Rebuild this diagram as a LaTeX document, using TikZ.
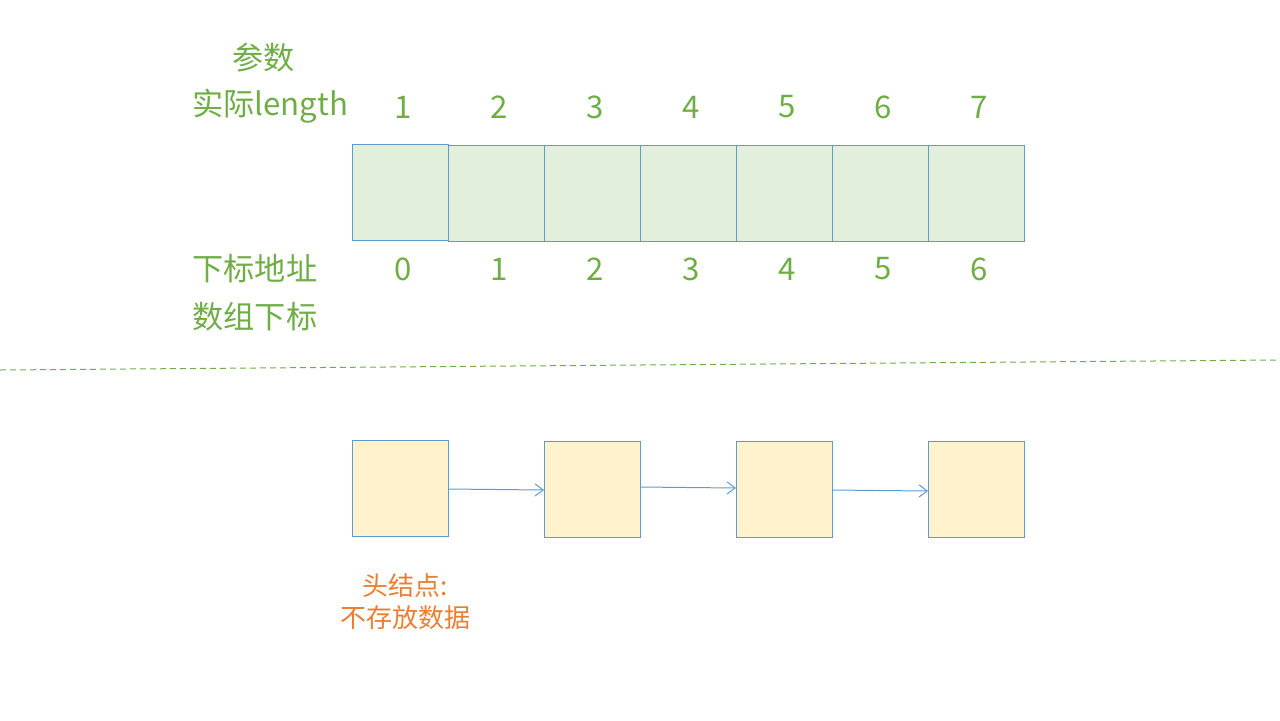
\documentclass[tikz,border=0pt]{standalone}
\usepackage{fontspec}
\setmainfont{Noto Sans CJK SC}
\usetikzlibrary{arrows.meta}
\definecolor{tgreen}{HTML}{70AD47}
\definecolor{bfill}{HTML}{E2EFDA}
\definecolor{bline}{HTML}{5B9BD5}
\definecolor{yfill}{HTML}{FFF2CC}
\definecolor{torange}{HTML}{ED7D31}
\begin{document}
\begin{tikzpicture}[x=0.5pt,y=-0.5pt,
  cell/.style={draw=bline,line width=0.5pt,minimum width=48pt,minimum height=48pt,inner sep=0pt,outer sep=0pt},
  gcell/.style={cell,fill=bfill},
  ycell/.style={cell,fill=yfill},
  glab/.style={text=tgreen,font=\fontsize{15.6}{18}\selectfont,inner sep=0pt},
  olab/.style={text=torange,font=\fontsize{13}{16}\selectfont,inner sep=0pt,align=center},
  link/.style={draw=bline,line width=0.5pt,-{Straight Barb[length=4pt,width=6pt]}}]
\useasboundingbox (0,0) rectangle (1280,720);
% top array
\node[gcell] (a0) at (400,192) {};
\foreach \i in {1,...,6}{
  \node[gcell] (a\i) at (400+96*\i,193) {};
}
\foreach \i in {0,...,6}{
  \pgfmathtruncatemacro{\n}{\i+1}
  \node[glab] (t\i) at (403+96*\i,107) {\n};
  \node[glab] (b\i) at (403+96*\i,269) {\i};
}
\node[glab,anchor=west] (p1) at (232,58) {参数};
\node[glab,anchor=west] (p2) at (192,106) {实际length};
\node[glab,anchor=west] (p3) at (192,269) {下标地址};
\node[glab,anchor=west] (p4) at (192,317) {数组下标};
% divider
\coordinate (d1) at (0,370);
\coordinate (d2) at (1280,360);
\draw[tgreen,dashed,line width=0.5pt,dash pattern=on 3pt off 2pt] (d1) -- (d2);
% linked list
\node[ycell] (n0) at (400,488) {};
\node[ycell] (n1) at (592,489) {};
\node[ycell] (n2) at (784,489) {};
\node[ycell] (n3) at (976,489) {};
\draw[link] (n0.east |- 0,489) -- (n1.west |- 0,490);
\draw[link] (n1.east |- 0,487) -- (n2.west |- 0,488);
\draw[link] (n2.east |- 0,490) -- (n3.west |- 0,491);
\node[olab] (h) at (405,602) {头结点:\\不存放数据};
\end{tikzpicture}
\end{document}
